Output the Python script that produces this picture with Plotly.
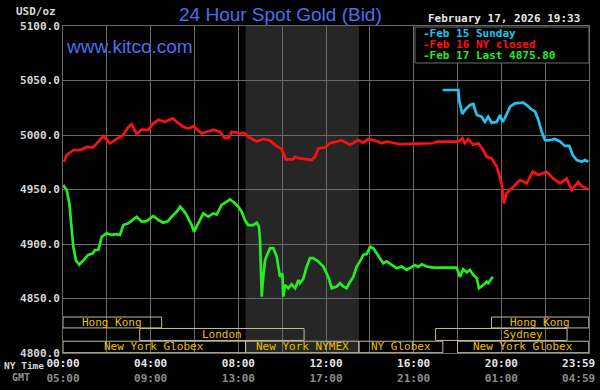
import plotly.graph_objects as go

# ---------------- data ----------------
# hours after midnight (NY time) and bid prices (USD/oz)
feb15_hours = [17.32, 18.04, 18.08, 18.11, 18.22, 18.34, 18.57, 18.72, 18.88, 19.10, 19.25, 19.40,
               19.56, 19.79, 19.94, 20.06, 20.17, 20.40, 20.62, 21.00, 21.16, 21.31, 21.54, 21.69,
               21.84, 21.99, 22.15, 22.45, 22.68, 22.90, 23.10, 23.26, 23.44, 23.67, 23.82, 23.97]
feb15_price = [5041.3, 5041.3, 5031.0, 5029.0, 5019.3, 5023.0, 5027.5, 5028.4, 5018.3, 5016.8, 5012.0, 5016.8,
               5011.3, 5012.0, 5018.3, 5012.0, 5016.0, 5026.0, 5029.0, 5029.6, 5027.5, 5024.5, 5021.4, 5013.8,
               5003.0, 4995.4, 4995.0, 4996.3, 4994.0, 4990.0, 4990.0, 4981.6, 4977.0, 4975.5, 4977.0, 4975.5]

feb16_hours = [0.05, 0.17, 0.47, 0.78, 1.08, 1.38, 1.61, 1.84, 2.14, 2.45, 2.75, 2.93, 3.13, 3.36, 3.59,
               3.89, 4.12, 4.35, 4.65, 5.01, 5.19, 5.49, 5.72, 5.95, 6.33, 6.56, 6.86, 7.16, 7.39, 7.59,
               7.70, 8.08, 8.26, 8.45, 8.84, 9.14, 9.44, 9.67, 9.98, 10.17, 10.51, 10.59, 10.81, 11.12,
               11.35, 11.50, 11.65, 11.95, 12.18, 12.49, 12.72, 13.10, 13.47, 13.70, 13.93, 14.24, 14.54,
               14.77, 15.38, 16.14, 16.90, 17.05, 18.04, 18.22, 18.34, 18.49, 18.72, 18.95, 19.18, 19.33,
               19.56, 19.79, 19.91, 20.02, 20.12, 20.24, 20.55, 20.85, 21.16, 21.43, 21.69, 22.07, 22.37,
               22.68, 22.98, 23.21, 23.51, 23.67, 23.98]
feb16_price = [4975.5, 4981.6, 4986.0, 4986.0, 4989.0, 4988.7, 4994.0, 4999.0, 4992.4, 4996.0, 5000.0, 5006.0,
               5010.0, 5001.0, 5005.0, 5004.6, 5010.7, 5013.8, 5012.0, 5015.3, 5012.0, 5007.6, 5006.0, 5008.0,
               5001.5, 5003.0, 5004.6, 5003.0, 4997.0, 4998.0, 5003.0, 5001.5, 5002.0, 4998.5, 4994.0, 4996.3,
               4995.0, 4991.0, 4987.0, 4977.7, 4977.7, 4980.0, 4978.5, 4977.7, 4977.0, 4980.0, 4987.8, 4988.5,
               4992.4, 4994.0, 4995.0, 4991.0, 4995.4, 4993.0, 4996.3, 4995.0, 4992.4, 4994.0, 4991.5, 4992.0,
               4992.4, 4994.0, 4994.0, 4997.0, 4992.4, 4996.3, 4991.0, 4992.4, 4986.0, 4980.0, 4978.6, 4971.0,
               4963.0, 4955.0, 4937.3, 4946.5, 4952.6, 4958.7, 4955.7, 4966.3, 4963.3, 4966.3, 4960.0, 4955.7,
               4960.0, 4949.5, 4957.0, 4953.0, 4950.0]

feb17_hours = [0.01, 0.17, 0.29, 0.40, 0.47, 0.59, 0.74, 0.93, 1.15, 1.36, 1.46, 1.61, 1.77, 1.99, 2.22,
               2.45, 2.60, 2.75, 2.98, 3.36, 3.59, 3.82, 4.12, 4.35, 4.58, 4.80, 4.96, 5.19, 5.34, 5.49,
               5.64, 5.87, 5.98, 6.17, 6.40, 6.63, 6.86, 7.01, 7.24, 7.47, 7.62, 7.77, 8.00, 8.15, 8.30,
               8.45, 8.68, 8.84, 8.94, 8.99, 9.03, 9.07, 9.11, 9.22, 9.44, 9.60, 9.75, 9.82, 9.90, 10.01,
               10.05, 10.13, 10.28, 10.43, 10.59, 10.74, 10.81, 10.96, 11.12, 11.27, 11.42, 11.65, 11.88,
               12.10, 12.26, 12.49, 12.64, 12.79, 12.94, 13.10, 13.25, 13.40, 13.55, 13.70, 13.86, 14.01,
               14.16, 14.31, 14.46, 14.61, 14.77, 15.00, 15.23, 15.45, 15.68, 15.91, 16.06, 16.21, 16.37,
               16.59, 16.90, 17.96, 18.11, 18.26, 18.42, 18.57, 18.72, 18.88, 18.98, 19.18, 19.33, 19.40,
               19.61]
feb17_price = [4954.0, 4949.5, 4937.0, 4910.0, 4897.5, 4885.0, 4881.0, 4885.0, 4890.0, 4891.5, 4894.5, 4894.5,
               4906.7, 4909.8, 4908.3, 4909.0, 4908.3, 4917.4, 4919.0, 4925.0, 4920.5, 4921.0, 4925.7, 4922.0,
               4919.5, 4921.0, 4925.0, 4929.6, 4934.2, 4931.0, 4926.6, 4917.4, 4911.3, 4919.0, 4928.0, 4925.0,
               4928.0, 4927.0, 4935.8, 4938.8, 4941.0, 4938.8, 4934.2, 4929.6, 4922.0, 4917.4, 4917.4, 4919.5,
               4916.0, 4903.7, 4876.0, 4851.7, 4864.0, 4885.3, 4896.0, 4896.0, 4888.4, 4879.3, 4870.0, 4873.0,
               4851.7, 4862.4, 4859.4, 4863.0, 4859.4, 4867.0, 4864.0, 4868.0, 4879.3, 4887.0, 4887.0, 4884.0,
               4879.3, 4870.0, 4859.4, 4861.0, 4864.0, 4861.0, 4859.4, 4865.4, 4870.0, 4879.3, 4884.0, 4890.0,
               4891.0, 4897.5, 4896.0, 4891.5, 4887.0, 4882.3, 4884.0, 4880.7, 4877.7, 4879.3, 4876.2, 4879.0,
               4880.7, 4879.0, 4881.4, 4879.3, 4878.3, 4878.3, 4870.0, 4876.8, 4874.0, 4876.2, 4871.6, 4868.6,
               4859.4, 4862.4, 4865.4, 4864.0, 4870.0]

series_names = ["-Feb 15 Sunday", "-Feb 16 NY closed", "-Feb 17 Last 4875.80"]

# trading sessions (row 0 = top row of boxes)
session_names = ["Hong Kong", "Hong Kong", "London", "Sydney",
                 "New York Globex", "New York NYMEX", "NY Globex", "New York Globex"]
session_start = [0.0, 19.55, 3.5, 17.0, 0.0, 8.33, 13.5, 18.0]
session_end = [4.5, 24.0, 11.0, 23.0, 8.33, 13.5, 17.33, 24.0]
session_row = [0, 0, 1, 1, 2, 2, 2, 2]

nymex_start, nymex_end = 8.33, 13.5

x_tick_hours = [0, 2, 4, 6, 8, 10, 12, 14, 16, 18, 20, 22, 23.98]
ny_labels = ["00:00", "", "04:00", "", "08:00", "", "12:00", "", "16:00", "", "20:00", "", "23:59"]
gmt_labels = ["05:00", "", "09:00", "", "13:00", "", "17:00", "", "21:00", "", "01:00", "", "04:59"]
y_ticks = [4800, 4850, 4900, 4950, 5000, 5050, 5100]

# ---------------- figure ----------------
MONO = "DejaVu Sans Mono"
W, H = 600, 390
ML, MR, MT, MB = 63, 11, 26, 37
PW, PH = W - ML - MR, H - MT - MB


def px(xp, yp):
    """pixel position -> paper coordinates"""
    return (xp - ML) / PW, (H - MB - yp) / PH


fig = go.Figure()

colors = ["#22c4ee", "#ff1010", "#22ee22"]
for hrs, prc, col, nm in [(feb15_hours, feb15_price, colors[0], series_names[0]),
                          (feb16_hours, feb16_price, colors[1], series_names[1]),
                          (feb17_hours, feb17_price, colors[2], series_names[2])]:
    fig.add_trace(go.Scatter(x=hrs, y=prc, mode="lines", name=nm,
                             line=dict(color=col, width=2.7), showlegend=False,
                             hoverinfo="skip"))

shapes = []
# NYMEX shading
shapes.append(dict(type="rect", xref="x", yref="y", x0=nymex_start, x1=nymex_end,
                   y0=4800, y1=5100, fillcolor="#262626", line=dict(width=0), layer="below"))

row_bounds = [(4823.0, 4833.0), (4811.5, 4822.5), (4800.3, 4810.8)]
annotations = []
for nm, s, e, r in zip(session_names, session_start, session_end, session_row):
    y0, y1 = row_bounds[r]
    shapes.append(dict(type="rect", xref="x", yref="y", x0=s, x1=min(e, 23.99), y0=y0, y1=y1,
                       line=dict(color="#c4bc94", width=1), fillcolor="rgba(0,0,0,0)", layer="above"))
    cx = (s + e) / 2
    if nm == "Sydney":
        cx = 21.0
    annotations.append(dict(x=cx, y=(y0 + y1) / 2, xref="x", yref="y", text=nm, showarrow=False,
                            font=dict(family=MONO, size=11, color="#e8c000"),
                            xanchor="center", yanchor="middle"))

# legend box
lx0, ly0 = px(415, 63)
lx1, ly1 = px(589, 27)
shapes.append(dict(type="rect", xref="paper", yref="paper", x0=lx0, x1=lx1, y0=ly0, y1=ly1,
                   fillcolor="#000000", line=dict(color="#6c6c6c", width=1), layer="above"))
for i, (nm, col) in enumerate(zip(series_names, colors)):
    ax, ay = px(421, 33 + 11 * i)
    annotations.append(dict(x=ax, y=ay, xref="paper", yref="paper", text=nm,
                            showarrow=False, xanchor="left", yanchor="middle",
                            font=dict(family=MONO, size=11, color=col, weight="bold")))

texts = [
    ("24 Hour Spot Gold (Bid)", 280, 14, "center", dict(family="Liberation Sans", size=19, color="#4a70f0")),
    ("www.kitco.com", 64, 46, "left", dict(family="Liberation Sans", size=19, color="#4a70f0")),
    ("February 17, 2026 19:33", 426, 19, "left", dict(family=MONO, size=11, color="#e6e6e6", weight="bold")),
    ("USD/oz", 58, 12, "right", dict(family=MONO, size=11, color="#d8d8d8", weight="bold")),
    ("NY Time", 2, 366, "left", dict(family=MONO, size=9.5, color="#d8d8d8", weight="bold")),
    ("GMT", 10, 378, "left", dict(family=MONO, size=10, color="#909090", weight="bold")),
]
for t, xp, yp, anc, f in texts:
    ax, ay = px(xp, yp)
    annotations.append(dict(x=ax, y=ay, xref="paper", yref="paper", text=t, showarrow=False,
                            xanchor=anc, yanchor="middle", font=f))

pad = "&nbsp;&nbsp;&nbsp;"
ticktext = []
for i, (a, b) in enumerate(zip(ny_labels, gmt_labels)):
    if not a:
        ticktext.append("")
        continue
    p = pad if i == len(ny_labels) - 1 else ""
    ticktext.append(f"{a}{p}<br><span style='color:#8c8c8c'>{b}</span>{p}")

fig.update_layout(
    width=W, height=H,
    margin=dict(l=ML, r=MR, t=MT, b=MB, autoexpand=False),
    paper_bgcolor="#000000", plot_bgcolor="#000000",
    shapes=shapes, annotations=annotations,
    xaxis=dict(range=[0, 24], tickvals=x_tick_hours, ticktext=ticktext, showgrid=True,
               gridcolor="#6a6a6a", gridwidth=1, zeroline=False, ticks="", automargin=False,
               showline=True, linecolor="#6a6a6a", mirror=True, ticklabeloverflow="allow",
               tickfont=dict(family=MONO, size=11, color="#e6e6e6", weight="bold")),
    yaxis=dict(range=[4800, 5100], tickvals=y_ticks, ticktext=[f"{v:.1f}" for v in y_ticks],
               showgrid=True, gridcolor="#6a6a6a", gridwidth=1, zeroline=False, ticks="", automargin=False,
               showline=True, linecolor="#6a6a6a", mirror=True,
               tickfont=dict(family=MONO, size=11, color="#d8d8d8", weight="bold")),
    showlegend=False,
)

fig.write_html("out.html", config={"displayModeBar": False},
               post_script="document.body.style.margin='0px';document.body.style.background='#000';")
